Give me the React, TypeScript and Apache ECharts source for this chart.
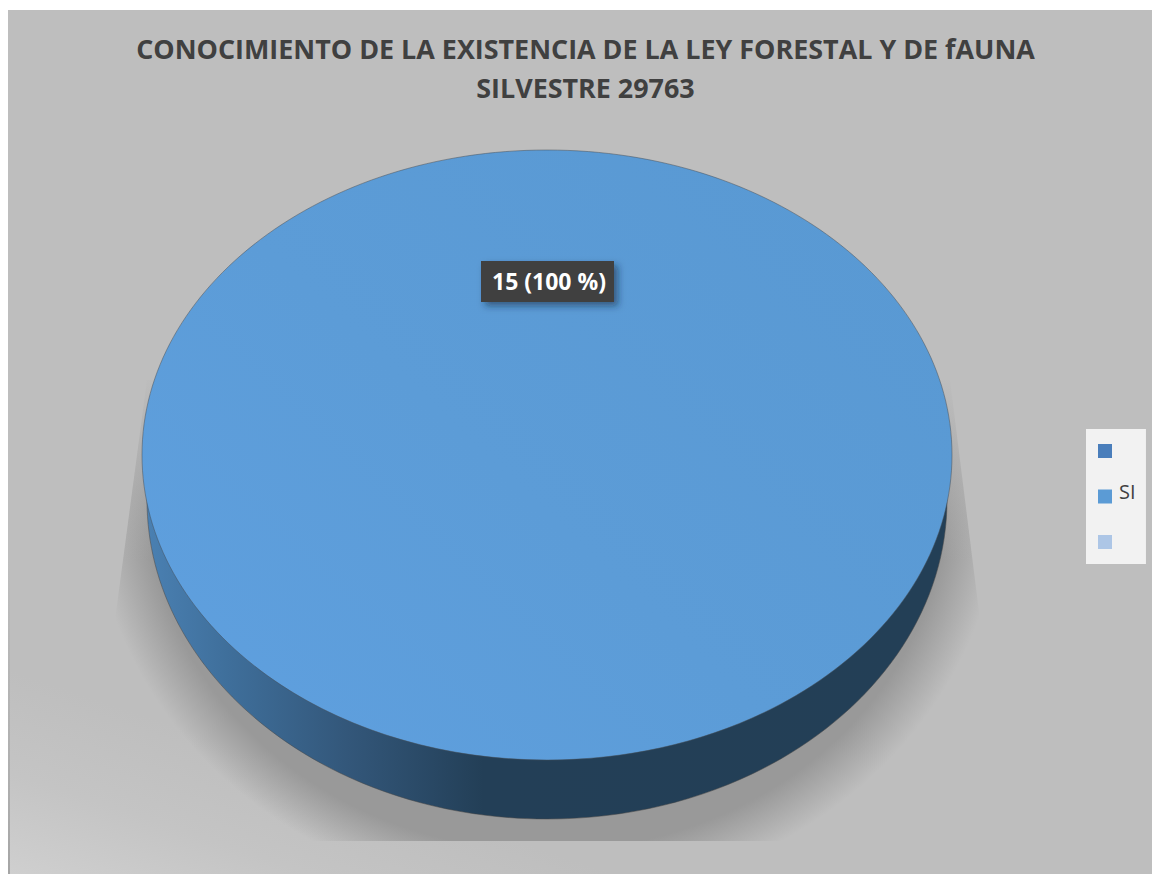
import React, { useEffect, useRef } from "react";
import * as echarts from "echarts";

const titleLines = ["CONOCIMIENTO DE LA EXISTENCIA DE LA LEY FORESTAL Y DE fAUNA", "SILVESTRE 29763"];
const categories = [" ", "SI", "  "];
const values = [0, 15, 0];
const colors = ["#4a7ebb", "#5b9bd5", "#adc6e6"];
const FONT = '"Open Sans", "Noto Sans", sans-serif';

const total = values.reduce((a, b) => a + b, 0);
const CX = 547, CY = 455, RX = 405, RY = 305;

function decorations() {
  return [
    {
      type: "ellipse",
      shape: { cx: CX, cy: 490, rx: 455, ry: 410 },
      clipPath: {
        type: "polygon",
        shape: { points: [[147, 380], [115, 620], [115, 841], [980, 841], [980, 620], [950, 380]] },
      },
      style: {
        fill: new echarts.graphic.RadialGradient(0.5, 0.5, 0.5, [
          { offset: 0, color: "rgba(153,153,153,1)" },
          { offset: 0.88, color: "rgba(153,153,153,1)" },
          { offset: 0.94, color: "rgba(153,153,153,0.5)" },
          { offset: 1, color: "rgba(153,153,153,0)" },
        ]),
      },
    },
    {
      type: "rect",
      shape: { x: 100, y: 370, width: 900, height: 190 },
      style: {
        fill: new echarts.graphic.LinearGradient(0, 0, 0, 1, [
          { offset: 0, color: "rgba(190,190,190,1)" },
          { offset: 0.1, color: "rgba(190,190,190,0.9)" },
          { offset: 1, color: "rgba(190,190,190,0)" },
        ]),
      },
    },
    {
      type: "ellipse",
      shape: { cx: CX, cy: 500, rx: 400, ry: 319 },
      style: {
        fill: new echarts.graphic.LinearGradient(0, 0, 1, 0, [
          { offset: 0, color: "#4a80b2" },
          { offset: 0.1, color: "#3f6f9b" },
          { offset: 0.25, color: "#33577a" },
          { offset: 0.42, color: "#233f57" },
          { offset: 1, color: "#233f56" },
        ]),
        stroke: "rgba(70,70,70,0.5)",
        lineWidth: 1,
      },
    },
  ];
}

function renderSlice(idx: number) {
  return (_params: any, api: any) => {
    const value = api.value(0) as number;
    if (!value) return { type: "group", children: [] };
    const before = values.slice(0, idx).reduce((a, b) => a + b, 0);
    const start = -Math.PI / 2 + (before / total) * Math.PI * 2;
    const end = start + (value / total) * Math.PI * 2;
    const fill = new echarts.graphic.LinearGradient(0, 1, 1, 0.2, [
      { offset: 0, color: "#5fa0e0" },
      { offset: 0.5, color: "#5c9cd7" },
      { offset: 1, color: "#5999d3" },
    ]);
    const top =
      value === total
        ? {
            type: "ellipse",
            shape: { cx: CX, cy: CY, rx: RX, ry: RY },
            style: { fill, stroke: "rgba(70,80,90,0.5)", lineWidth: 1 },
          }
        : {
            type: "sector",
            x: CX,
            y: CY,
            scaleY: RY / RX,
            shape: { cx: 0, cy: 0, r: RX, startAngle: start, endAngle: end },
            style: { fill },
          };
    const labelText = `${value} (${Math.round((value / total) * 100)} %)`;
    return {
      type: "group",
      children: [
        ...decorations(),
        top,
        {
          type: "rect",
          shape: { x: 481, y: 261, width: 133, height: 41 },
          style: {
            fill: "#404040",
            shadowBlur: 7,
            shadowOffsetX: 4,
            shadowOffsetY: 4,
            shadowColor: "rgba(20,40,60,0.55)",
          },
        },
        {
          type: "text",
          x: 549,
          y: 281,
          style: {
            text: labelText,
            fill: "#ffffff",
            font: `bold 23px ${FONT}`,
            align: "center",
            verticalAlign: "middle",
          },
        },
      ],
    };
  };
}

export default function App() {
  const ref = useRef<HTMLDivElement>(null);
  useEffect(() => {
    document.body.style.margin = "0";
    const chart = echarts.init(ref.current!, undefined, { renderer: "svg" });
    chart.setOption({
      animation: false,
      backgroundColor: "#ffffff",
      title: {
        text: titleLines.join("\n"),
        left: 580.5,
        top: 24,
        textAlign: "center",
        textStyle: { fontFamily: FONT, fontWeight: "bold", fontSize: 26.9, lineHeight: 39, color: "#404040" },
      },
      legend: {
        data: categories,
        orient: "vertical",
        left: 1086,
        top: 429,
        padding: [7, 10.4, 7, 12],
        itemWidth: 14,
        itemHeight: 14,
        itemGap: 15.5,
        icon: "rect",
        backgroundColor: "#f2f2f2",
        selectedMode: false,
        formatter: (name: string) => `{a|${name}}`,
        textStyle: {
          rich: {
            a: { fontFamily: FONT, fontSize: 20, lineHeight: 18, color: "#404040", padding: [0, 0, 10, 2] },
          },
        },
      },
      graphic: [
        {
          type: "rect",
          z: -1,
          shape: { x: 8, y: 10, width: 1144, height: 864 },
          style: {
            fill: new echarts.graphic.LinearGradient(
              8,
              874,
              70,
              690,
              [
                { offset: 0, color: "#cfcfcf" },
                { offset: 0.5, color: "#c4c4c4" },
                { offset: 1, color: "#bebebe" },
              ],
              true
            ),
          },
        },
        {
          type: "rect",
          z: -1,
          shape: { x: 8, y: 560, width: 2, height: 314 },
          style: {
            fill: new echarts.graphic.LinearGradient(0, 0, 0, 1, [
              { offset: 0, color: "rgba(165,165,165,0)" },
              { offset: 1, color: "rgba(165,165,165,1)" },
            ]),
          },
        },
      ],
      series: categories.map((name, i) => ({
        type: "custom",
        name,
        coordinateSystem: "none",
        itemStyle: { color: colors[i] },
        data: [[values[i]]],
        renderItem: renderSlice(i),
        silent: true,
      })),
    });
    return () => chart.dispose();
  }, []);
  return <div ref={ref} style={{ width: 1152, height: 874 }} />;
}
